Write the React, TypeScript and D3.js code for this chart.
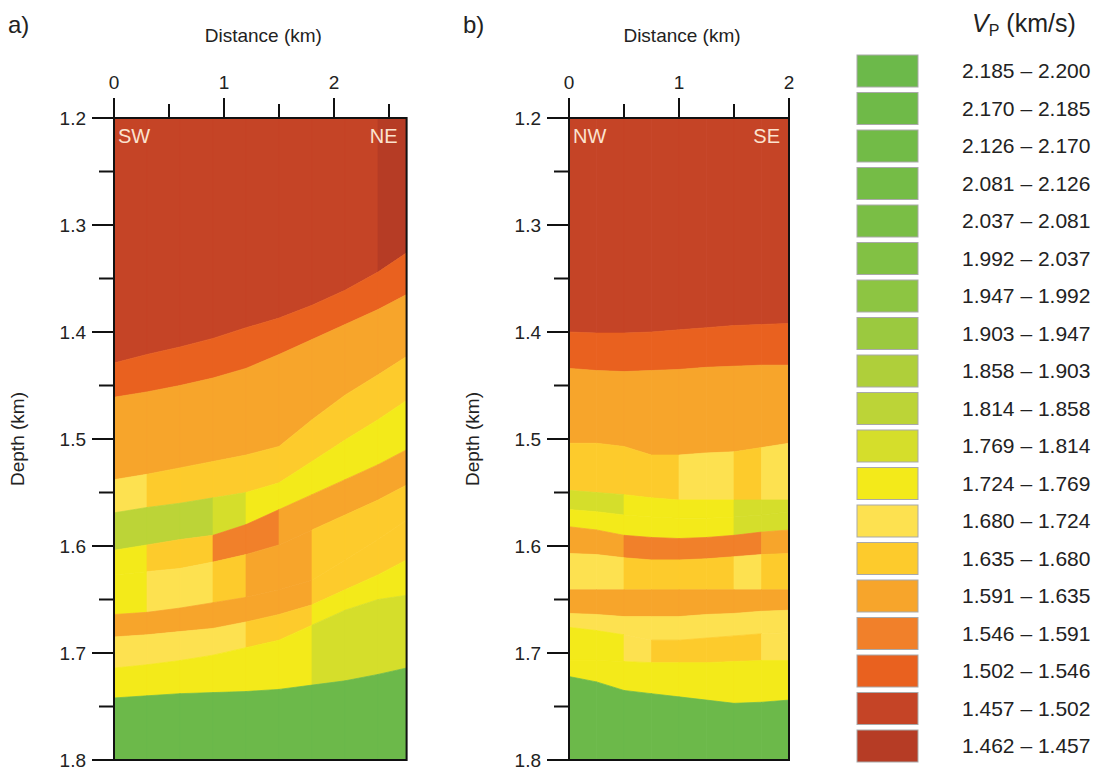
import React from 'react';
import * as d3 from 'd3';

// ---------- legend / colour classes (top to bottom) ----------
const legendLabels = [
  '2.185 – 2.200', '2.170 – 2.185', '2.126 – 2.170', '2.081 – 2.126', '2.037 – 2.081',
  '1.992 – 2.037', '1.947 – 1.992', '1.903 – 1.947', '1.858 – 1.903', '1.814 – 1.858',
  '1.769 – 1.814', '1.724 – 1.769', '1.680 – 1.724', '1.635 – 1.680', '1.591 – 1.635',
  '1.546 – 1.591', '1.502 – 1.546', '1.457 – 1.502', '1.462 – 1.457',
];
const classColors = [
  '#6cb94a', '#6fba48', '#72bb47', '#75bc46', '#7abe45',
  '#82c144', '#8dc542', '#9bc93f', '#afcf3a', '#bcd437',
  '#d5de2b', '#f3ea1a', '#fde150', '#fdcb2c', '#f7a52b',
  '#f1802a', '#e9611f', '#c54426', '#b63c25',
];

// ---------- axes ----------
const depthTicks = [1.2, 1.3, 1.4, 1.5, 1.6, 1.7, 1.8];
const depthMinorTicks = [1.25, 1.35, 1.45, 1.55, 1.65, 1.75];
const distTicksA = [0, 1, 2];
const distMinorA = [0.5, 1.5, 2.5];
const distTicksB = [0, 1, 2];
const distMinorB = [0.5, 1.5];

// ---------- panel a (SW - NE) ----------
const panelAX = [0, 0.3, 0.6, 0.9, 1.2, 1.5, 1.8, 2.1, 2.4, 2.66];
// bottom depth (km) of each layer at the sample distances
const panelABottoms = [
  [1.429, 1.421, 1.414, 1.406, 1.396, 1.387, 1.375, 1.361, 1.344, 1.326],
  [1.461, 1.456, 1.450, 1.443, 1.434, 1.421, 1.407, 1.393, 1.379, 1.365],
  [1.538, 1.533, 1.527, 1.521, 1.515, 1.507, 1.482, 1.459, 1.440, 1.423],
  [1.569, 1.564, 1.560, 1.555, 1.550, 1.541, 1.521, 1.501, 1.482, 1.464],
  [1.604, 1.599, 1.594, 1.590, 1.580, 1.566, 1.552, 1.538, 1.524, 1.510],
  [1.627, 1.624, 1.621, 1.615, 1.608, 1.599, 1.585, 1.571, 1.557, 1.543],
  [1.664, 1.662, 1.658, 1.653, 1.648, 1.641, 1.632, 1.613, 1.594, 1.576],
  [1.685, 1.683, 1.680, 1.677, 1.671, 1.664, 1.655, 1.641, 1.627, 1.613],
  [1.714, 1.711, 1.707, 1.702, 1.695, 1.688, 1.674, 1.660, 1.650, 1.646],
  [1.742, 1.740, 1.738, 1.737, 1.736, 1.734, 1.730, 1.726, 1.720, 1.714],
  [1.8, 1.8, 1.8, 1.8, 1.8, 1.8, 1.8, 1.8, 1.8, 1.8],
];
// colour class of each layer in each distance interval
const panelAClasses = [
  [17, 17, 17, 17, 17, 17, 17, 17, 18],
  [16, 16, 16, 16, 16, 16, 16, 16, 16],
  [14, 14, 14, 14, 14, 14, 14, 14, 14],
  [12, 13, 13, 13, 13, 13, 13, 13, 13],
  [9, 9, 9, 10, 11, 11, 11, 11, 11],
  [11, 13, 13, 15, 15, 14, 14, 14, 14],
  [11, 12, 12, 13, 14, 14, 13, 13, 13],
  [14, 14, 14, 14, 14, 14, 13, 13, 13],
  [12, 12, 12, 12, 13, 13, 11, 11, 11],
  [11, 11, 11, 11, 11, 11, 10, 10, 10],
  [0, 0, 0, 0, 0, 0, 0, 0, 0],
];

// ---------- panel b (NW - SE) ----------
const panelBX = [0, 0.25, 0.5, 0.75, 1.0, 1.25, 1.5, 1.75, 2.0];
const panelBBottoms = [
  [1.400, 1.401, 1.401, 1.400, 1.398, 1.396, 1.394, 1.393, 1.392],
  [1.434, 1.436, 1.437, 1.436, 1.435, 1.433, 1.432, 1.431, 1.431],
  [1.504, 1.504, 1.507, 1.515, 1.515, 1.513, 1.512, 1.508, 1.504],
  [1.548, 1.550, 1.552, 1.555, 1.557, 1.557, 1.557, 1.557, 1.557],
  [1.566, 1.568, 1.571, 1.573, 1.574, 1.574, 1.573, 1.571, 1.568],
  [1.582, 1.585, 1.590, 1.592, 1.593, 1.592, 1.590, 1.587, 1.585],
  [1.607, 1.608, 1.611, 1.613, 1.613, 1.612, 1.610, 1.608, 1.607],
  [1.641, 1.641, 1.641, 1.641, 1.641, 1.641, 1.641, 1.641, 1.641],
  [1.663, 1.664, 1.666, 1.666, 1.666, 1.664, 1.663, 1.661, 1.660],
  [1.676, 1.679, 1.683, 1.688, 1.688, 1.686, 1.684, 1.682, 1.681],
  [1.707, 1.707, 1.708, 1.709, 1.709, 1.709, 1.708, 1.707, 1.707],
  [1.722, 1.727, 1.735, 1.738, 1.741, 1.744, 1.747, 1.746, 1.744],
  [1.8, 1.8, 1.8, 1.8, 1.8, 1.8, 1.8, 1.8, 1.8],
];
const panelBClasses = [
  [17, 17, 17, 17, 17, 17, 17, 17],
  [16, 16, 16, 16, 16, 16, 16, 16],
  [14, 14, 14, 14, 14, 14, 14, 14],
  [13, 13, 13, 13, 12, 12, 13, 12],
  [10, 10, 11, 11, 11, 11, 10, 10],
  [11, 11, 11, 11, 11, 11, 10, 10],
  [14, 14, 15, 15, 15, 15, 15, 14],
  [12, 12, 13, 13, 13, 13, 12, 13],
  [14, 14, 14, 14, 14, 14, 14, 14],
  [12, 12, 12, 12, 12, 12, 12, 12],
  [11, 11, 12, 13, 13, 13, 13, 12],
  [11, 11, 11, 11, 11, 11, 11, 11],
  [0, 0, 0, 0, 0, 0, 0, 0],
];

const FONT = 'Liberation Sans, Arial, Helvetica, sans-serif';
const TOP = 118;
const BOTTOM = 760;

type PanelProps = {
  label: string;
  xs: number[];
  bottoms: number[][];
  classes: number[][];
  xMax: number;
  left: number;
  majorX: number[];
  minorX: number[];
  leftTag: string;
  rightTag: string;
};

function Panel({ label, xs, bottoms, classes, xMax, left, majorX, minorX, leftTag, rightTag }: PanelProps) {
  const x = d3.scaleLinear().domain([0, xMax]).range([left, left + xMax * 110]);
  const y = d3.scaleLinear().domain([1.2, 1.8]).range([TOP, BOTTOM]);
  const right = x(xMax);
  const area = d3
    .area<{ x: number; t: number; b: number }>()
    .x((d) => x(d.x))
    .y0((d) => y(d.t))
    .y1((d) => y(d.b));

  const polys: React.ReactNode[] = [];
  bottoms.forEach((bottom, i) => {
    const top = i === 0 ? xs.map(() => 1.2) : bottoms[i - 1];
    for (let j = 0; j < xs.length - 1; j++) {
      const c = classColors[classes[i][j]];
      const pts = [
        { x: xs[j], t: top[j], b: bottom[j] },
        { x: xs[j + 1], t: top[j + 1], b: bottom[j + 1] },
      ];
      polys.push(<path key={`${i}-${j}`} d={area(pts) || ''} fill={c} stroke={c} strokeWidth={0.7} />);
    }
  });

  const midX = (left + right) / 2;
  return (
    <g>
      <text x={left - 106} y={33} fontSize={24} fontFamily={FONT} fill="#222">{label}</text>
      <text x={midX + 3} y={42} fontSize={19} fontFamily={FONT} fill="#222" textAnchor="middle">Distance (km)</text>
      <text
        transform={`translate(${left - 90},${439}) rotate(-90)`}
        fontSize={19}
        fontFamily={FONT}
        fill="#222"
        textAnchor="middle"
      >
        Depth (km)
      </text>
      <clipPath id={`clip-${label}`}>
        <rect x={left} y={TOP} width={right - left} height={BOTTOM - TOP} />
      </clipPath>
      <g clipPath={`url(#clip-${label})`}>{polys}</g>
      <rect x={left} y={TOP} width={right - left} height={BOTTOM - TOP} fill="none" stroke="#111" strokeWidth={2} />
      {majorX.map((t) => (
        <g key={`mx${t}`}>
          <line x1={x(t)} x2={x(t)} y1={TOP} y2={TOP - 20} stroke="#111" strokeWidth={2} />
          <text x={x(t)} y={89} fontSize={19} fontFamily={FONT} fill="#222" textAnchor="middle">{t}</text>
        </g>
      ))}
      {minorX.map((t) => (
        <line key={`nx${t}`} x1={x(t)} x2={x(t)} y1={TOP} y2={TOP - 14} stroke="#111" strokeWidth={2} />
      ))}
      {depthTicks.map((t) => (
        <g key={`my${t}`}>
          <line x1={left} x2={left - 22} y1={y(t)} y2={y(t)} stroke="#111" strokeWidth={2} />
          <text x={left - 28} y={y(t) + 7} fontSize={19} fontFamily={FONT} fill="#222" textAnchor="end">{t.toFixed(1)}</text>
        </g>
      ))}
      {depthMinorTicks.map((t) => (
        <line key={`ny${t}`} x1={left} x2={left - 15} y1={y(t)} y2={y(t)} stroke="#111" strokeWidth={2} />
      ))}
      <text x={left + 4} y={143} fontSize={20} fontFamily={FONT} fill="#fbe3cf">{leftTag}</text>
      <text x={right - 9} y={143} fontSize={20} fontFamily={FONT} fill="#fbe3cf" textAnchor="end">{rightTag}</text>
    </g>
  );
}

function Legend() {
  const yPos = d3.scaleLinear().domain([0, legendLabels.length - 1]).range([55, 730]);
  return (
    <g>
      <text x={972} y={32} fontSize={25} fontFamily={FONT} fill="#222">
        <tspan fontStyle="italic">V</tspan>
        <tspan fontSize={16} dy={4}>P</tspan>
        <tspan dy={-4}> (km/s)</tspan>
      </text>
      {legendLabels.map((lab, i) => (
        <g key={lab}>
          <rect x={857} y={yPos(i)} width={61} height={32} fill={classColors[i]} stroke="#a9a9a9" strokeWidth={1} />
          <text x={962} y={yPos(i) + 23} fontSize={21} fontFamily={FONT} fill="#222">{lab}</text>
        </g>
      ))}
    </g>
  );
}

export default function App() {
  return (
    <svg width={1101} height={771} style={{ position: 'absolute', left: 0, top: 0, background: '#fff' }}>
      <rect width={1101} height={771} fill="#fff" />
      <Panel
        label="a)"
        xs={panelAX}
        bottoms={panelABottoms}
        classes={panelAClasses}
        xMax={2.66}
        left={114}
        majorX={distTicksA}
        minorX={distMinorA}
        leftTag="SW"
        rightTag="NE"
      />
      <Panel
        label="b)"
        xs={panelBX}
        bottoms={panelBBottoms}
        classes={panelBClasses}
        xMax={2}
        left={569}
        majorX={distTicksB}
        minorX={distMinorB}
        leftTag="NW"
        rightTag="SE"
      />
      <Legend />
    </svg>
  );
}
